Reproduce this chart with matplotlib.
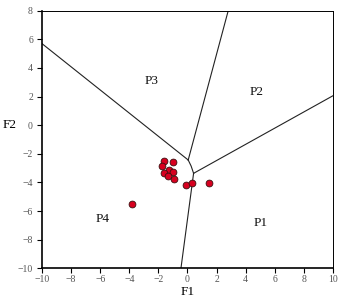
import matplotlib
matplotlib.use("Agg")
import matplotlib.pyplot as plt

plt.rcParams['font.family'] = ['Liberation Serif', 'DejaVu Serif']

# sample points (F1, F2)
f1 = [-1.59, -0.97, -1.75, -1.25, -1.00, -1.64, -1.32, -0.91, -0.10, 0.29, 1.46, -3.79]
f2 = [-2.50, -2.55, -2.83, -3.13, -3.25, -3.32, -3.53, -3.76, -4.18, -4.06, -4.06, -5.51]

# field boundaries
b_p3p4_x = [-10.0, 0.05]
b_p3p4_y = [5.7, -2.43]
b_p2p3_x = [0.05, 2.80]
b_p2p3_y = [-2.43, 8.0]
b_mid_x = [0.05, 0.25, 0.42]
b_mid_y = [-2.43, -2.85, -3.36]
b_p1p2_x = [0.42, 10.0]
b_p1p2_y = [-3.36, 2.06]
b_p1p4_x = [0.42, -0.45]
b_p1p4_y = [-3.36, -10.0]

labels = ['P3', 'P2', 'P4', 'P1']
label_x = [-2.46, 4.75, -5.83, 5.0]
label_y = [3.09, 2.3, -6.58, -6.85]

fig = plt.figure(figsize=(3.44, 3.05), dpi=100)
ax = fig.add_axes([0.122, 0.120, 0.846, 0.845])

for xs, ys in [(b_p3p4_x, b_p3p4_y), (b_p2p3_x, b_p2p3_y), (b_mid_x, b_mid_y),
               (b_p1p2_x, b_p1p2_y), (b_p1p4_x, b_p1p4_y)]:
    ax.plot(xs, ys, color='#222222', lw=0.8, zorder=2)

ax.scatter(f1, f2, s=24, color='#d7001f', edgecolor='#3a1010', linewidth=0.6, zorder=3)

for t, x, y in zip(labels, label_x, label_y):
    ax.text(x, y, t, fontsize=9.5, ha='center', va='center', color='#111111')

ax.set_xlim(-10, 10)
ax.set_ylim(-10, 8)
ax.set_xticks(range(-10, 11, 2))
ax.set_yticks(range(-10, 9, 2))
ax.tick_params(direction='out', length=3.5, width=0.8, labelsize=7,
               labelcolor='#555555', top=False, right=False)
ax.tick_params(axis='x', pad=1)
ax.tick_params(axis='y', pad=3)
for side in ['left', 'bottom']:
    ax.spines[side].set_linewidth(1.2)
for side in ['top', 'right']:
    ax.spines[side].set_linewidth(0.7)
ax.set_xlabel('F1', fontsize=9.5)
ax.set_ylabel('F2', fontsize=9.5, rotation=0, va='center', ha='center')
ax.xaxis.set_label_coords(0.5, -0.07)
ax.yaxis.set_label_coords(-0.112, 10 / 18)

fig.savefig('out.png', dpi=100)
